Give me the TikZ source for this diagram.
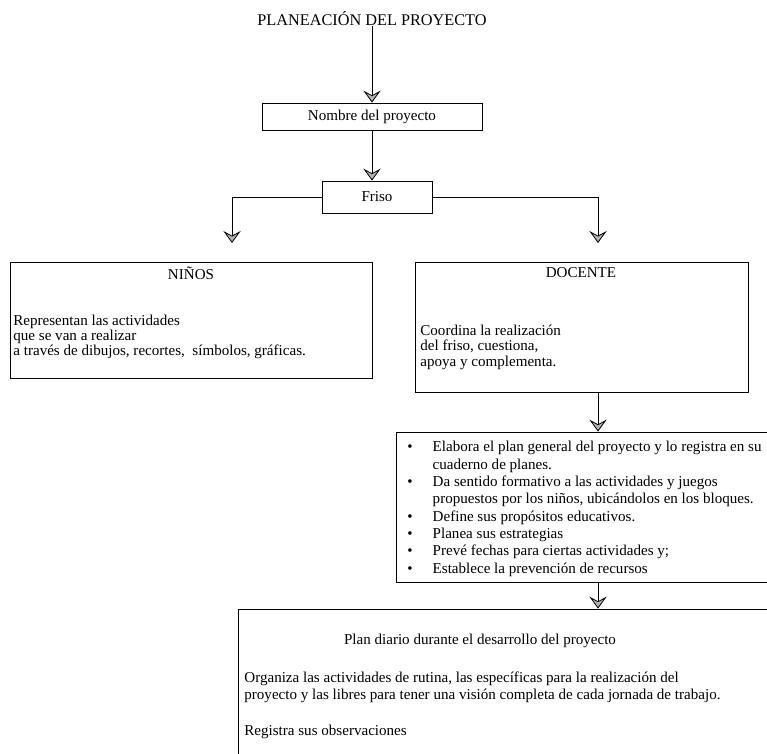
\documentclass[tikz,border=0pt]{standalone}
\usepackage{fontspec}
\setmainfont{Liberation Serif}
\usetikzlibrary{arrows.meta,positioning,fit}

\tikzset{
  caja/.style={draw, inner sep=0pt},
  flecha/.style={-{Stealth[length=9pt,width=13pt,inset=3.5pt,fill=gray!60]}},
  texto/.style={anchor=north west, align=left, inner sep=0pt},
  titulo/.style={inner sep=0pt},
}
\newcommand{\vineta}{\makebox[19pt][l]{\textbullet}}
\newcommand{\sangria}{\hspace*{19pt}}

\begin{document}
\begin{tikzpicture}[x=0.75pt,y=-0.75pt,line width=0.6pt,font=\fontsize{11.3}{11.3}\selectfont]
\useasboundingbox (0,0) rectangle (767,753);
\clip (0,0) rectangle (767,753);

% titulo
\node [titulo, font=\fontsize{12.2}{12.2}\selectfont] (plan) at (372,19) {PLANEACIÓN DEL PROYECTO};

% nombre del proyecto
\node [caja, fit={(262,103) (482,130)}] (nombre) {};
\node [titulo] (nombretxt) at (nombre.center) {Nombre del proyecto};

% friso
\node [caja, fit={(322,181) (432,213)}] (friso) {};
\node [titulo] (frisotxt) at (friso.center) {Friso};

% ninos
\node [caja, fit={(10,262) (372,378)}] (ninos) {};
\node [titulo] (ninostit) at (191,273) {NIÑOS};
\node [texto] (ninostxt) at (13,315) {Representan las actividades\\
que se van a realizar\\
a través de dibujos, recortes,\ \ símbolos, gráficas.};

% docente
\node [caja, fit={(415,262) (748,392)}] (docente) {};
\node [titulo] (docentetit) at (581,273) {DOCENTE};
\node [texto] (docentetxt) at (420,325) {Coordina la realización\\
del friso, cuestiona,\\
apoya y complementa.};

% lista de acciones del docente
\node [caja, fit={(396,432) (800,582)}] (acciones) {};
\node [texto, font=\fontsize{11.3}{13}\selectfont] (accionestxt) at (407,441) {%
\vineta Elabora el plan general del proyecto y lo registra en su\\
\sangria cuaderno de planes.\\
\vineta Da sentido formativo a las actividades y juegos\\
\sangria propuestos por los niños, ubicándolos en los bloques.\\
\vineta Define sus propósitos educativos.\\
\vineta Planea sus estrategias\\
\vineta Prevé fechas para ciertas actividades y;\\
\vineta Establece la prevención de recursos};

% plan diario
\node [caja, fit={(238,609) (800,800)}] (diario) {};
\node [titulo] (diariotit) at (480,641) {Plan diario durante el desarrollo del proyecto};
\node [texto, font=\fontsize{11.3}{13.2}\selectfont] (diariotxt) at (244,671) {Organiza las actividades de rutina, las específicas para la realización del\\
proyecto y las libres para tener una visión completa de cada jornada de trabajo.\\[14pt]
Registra sus observaciones};

% flechas
\coordinate (izq) at (232,243);
\coordinate (der) at (598,243);
\draw [flecha] (plan) -- (plan |- nombre.north);
\draw [flecha] (nombre.south -| plan) -- (friso.north -| plan);
\draw [flecha] (friso.west) -| (izq);
\draw [flecha] (friso.east) -| (der);
\draw [flecha] (docente.south -| der) -- (acciones.north -| der);
\draw [flecha] (acciones.south -| der) -- (diario.north -| der);
\end{tikzpicture}
\end{document}
